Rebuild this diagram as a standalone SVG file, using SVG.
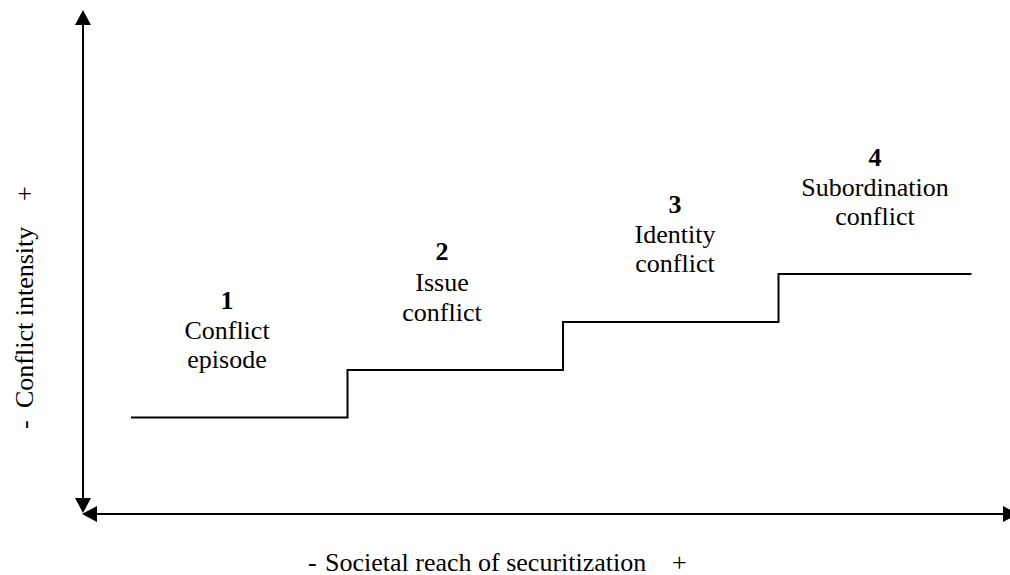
<svg xmlns="http://www.w3.org/2000/svg" width="1010" height="575" viewBox="0 0 1010 575">
<style>
text{font-family:"Liberation Serif","Times New Roman",serif;font-size:26px;fill:#000}
.num{font-weight:bold}
.lbl{text-anchor:middle}
.ax{stroke:#000;stroke-width:2;fill:none}
.step{stroke:#000;stroke-width:2;fill:none}
</style>
<defs>
<marker id="ah" viewBox="0 0 15 16" refX="0" refY="8" markerWidth="15" markerHeight="16" markerUnits="userSpaceOnUse" orient="auto-start-reverse">
<path d="M0,0 L15,8 L0,16 z" fill="#000"/>
</marker>
</defs>
<rect width="1010" height="575" fill="#fff"/>
<g id="connectors">
<line class="ax" x1="83" y1="498" x2="83" y2="25" marker-start="url(#ah)" marker-end="url(#ah)"/>
<line class="ax" x1="97" y1="514" x2="1003" y2="514" marker-start="url(#ah)" marker-end="url(#ah)"/>
<path id="steps" class="step" d="M131,417.5 H347.5 V370 H563 V322 H778.5 V274 H971.5"/>
</g>
<g id="axis-y-label">
<text transform="rotate(-90)"><tspan x="-429" y="33">-</tspan><tspan x="-408" y="33">Conflict intensity</tspan><tspan x="-201" y="33">+</tspan></text>
</g>
<g id="axis-x-label">
<text y="571"><tspan x="308">-</tspan><tspan x="325">Societal reach of securitization</tspan><tspan x="672">+</tspan></text>
</g>
<g id="node-1" class="lbl">
<text class="lbl num" x="227" y="309">1</text>
<text class="lbl" x="227" y="339">Conflict</text>
<text class="lbl" x="227" y="368">episode</text>
</g>
<g id="node-2">
<text class="lbl num" x="442" y="260">2</text>
<text class="lbl" x="442" y="291">Issue</text>
<text class="lbl" x="442" y="321">conflict</text>
</g>
<g id="node-3">
<text class="lbl num" x="675" y="213">3</text>
<text class="lbl" x="675" y="243">Identity</text>
<text class="lbl" x="675" y="272">conflict</text>
</g>
<g id="node-4">
<text class="lbl num" x="875" y="166">4</text>
<text class="lbl" x="875" y="196">Subordination</text>
<text class="lbl" x="875" y="225">conflict</text>
</g>
</svg>
